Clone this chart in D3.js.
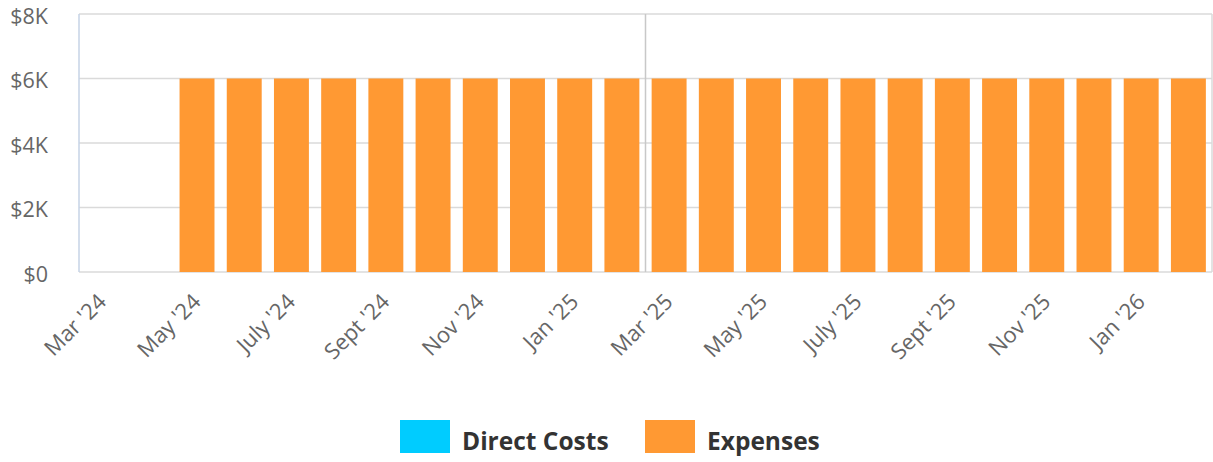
<!DOCTYPE html>
<html>
<head>
<meta charset="utf-8">
<script src="https://cdn.jsdelivr.net/npm/d3@7"></script>
<style>
  body { margin: 0; background: #fff; font-family: "Open Sans", sans-serif; }
  svg text { font-family: "Open Sans", sans-serif; }
</style>
</head>
<body>
<svg id="svg" width="1213" height="462"></svg>
<script>
let months = ["Mar '24", "Apr '24", "May '24", "June '24", "July '24", "Aug '24", "Sept '24", "Oct '24",
  "Nov '24", "Dec '24", "Jan '25", "Feb '25", "Mar '25", "Apr '25", "May '25", "June '25",
  "July '25", "Aug '25", "Sept '25", "Oct '25", "Nov '25", "Dec '25", "Jan '26", "Feb '26"];
let directCosts = [0, 0, 0, 0, 0, 0, 0, 0, 0, 0, 0, 0, 0, 0, 0, 0, 0, 0, 0, 0, 0, 0, 0, 0];
let expenses = [0, 0, 6000, 6000, 6000, 6000, 6000, 6000, 6000, 6000, 6000, 6000,
  6000, 6000, 6000, 6000, 6000, 6000, 6000, 6000, 6000, 6000, 6000, 6000];
let yTicks = [0, 2000, 4000, 6000, 8000];
let yearSplit = "Mar '25";
let legendItems = [{name: 'Direct Costs', color: '#00ccff'}, {name: 'Expenses', color: '#ff9933'}];

let margin = {top: 14, left: 79, right: 1, bottom: 190};
let svgWidth = 1213, svgHeight = 462;
let width = svgWidth - margin.left - margin.right;
let height = svgHeight - margin.top - margin.bottom;

let svg = d3.select('#svg');
let g = svg.append('g').attr('transform', `translate(${margin.left},${margin.top})`);

let x = d3.scaleBand().domain(months).range([0, width]).paddingInner(0.26).paddingOuter(0.13);
let y = d3.scaleLinear().domain([0, 8000]).range([height, 0]);

// grid
g.append('g').selectAll('line')
  .data(yTicks)
  .enter().append('line')
  .attr('x1', 0).attr('x2', width)
  .attr('y1', d => y(d)).attr('y2', d => y(d))
  .attr('stroke', '#dadada').attr('stroke-width', 1.5);

// right border
g.append('line')
  .attr('x1', width).attr('x2', width).attr('y1', 0).attr('y2', height)
  .attr('stroke', '#dadada').attr('stroke-width', 1.5);

// fiscal year divider
let splitX = x(yearSplit) - x.step() * x.paddingInner() / 2;
g.append('line')
  .attr('x1', splitX).attr('x2', splitX).attr('y1', 0).attr('y2', height)
  .attr('stroke', '#c8c8c8').attr('stroke-width', 1.5);

// bars
let stacked = months.map((m, i) => ({month: m, direct: directCosts[i], expenses: expenses[i]}));
g.append('g').selectAll('rect.exp')
  .data(stacked)
  .enter().append('rect')
  .attr('class', 'exp')
  .attr('x', d => x(d.month))
  .attr('width', x.bandwidth())
  .attr('y', d => y(d.direct + d.expenses))
  .attr('height', d => y(d.direct) - y(d.direct + d.expenses))
  .attr('fill', '#ff9933');
g.append('g').selectAll('rect.dc')
  .data(stacked)
  .enter().append('rect')
  .attr('class', 'dc')
  .attr('x', d => x(d.month))
  .attr('width', x.bandwidth())
  .attr('y', d => y(d.direct))
  .attr('height', d => y(0) - y(d.direct))
  .attr('fill', '#00ccff');

// left axis line
g.append('line')
  .attr('x1', 0).attr('x2', 0).attr('y1', 0).attr('y2', height)
  .attr('stroke', '#c6d3e6').attr('stroke-width', 1.5);

// y labels
let yAxis = d3.axisLeft(y).tickValues(yTicks).tickSize(0).tickPadding(31)
  .tickFormat(d => d === 0 ? '$0' : '$' + d / 1000 + 'K');
let gY = g.append('g').call(yAxis);
gY.select('.domain').remove();
gY.selectAll('text').attr('font-size', 21.5).attr('fill', '#666').attr('dy', '0.42em');

// x labels
let xAxis = d3.axisBottom(x).tickValues(months.filter((d, i) => i % 2 === 0)).tickSize(0);
let gX = g.append('g').attr('transform', `translate(0,${height})`).call(xAxis);
gX.select('.domain').remove();
gX.selectAll('text')
  .attr('font-size', 22)
  .attr('fill', '#666')
  .attr('text-anchor', 'end')
  .attr('dy', 0)
  .attr('transform', 'translate(3,29) rotate(-45)');

// legend
let legend = svg.append('g').attr('transform', 'translate(400,420)');
let lx = [0, 245];
legendItems.forEach((item, i) => {
  let lg = legend.append('g').attr('transform', `translate(${lx[i]},0)`);
  lg.append('rect').attr('width', 50).attr('height', 33).attr('fill', item.color);
  lg.append('text').attr('x', 62).attr('y', 30)
    .attr('font-size', 24.5).attr('font-weight', 'bold').attr('fill', '#333')
    .text(item.name);
});
</script>
</body>
</html>
